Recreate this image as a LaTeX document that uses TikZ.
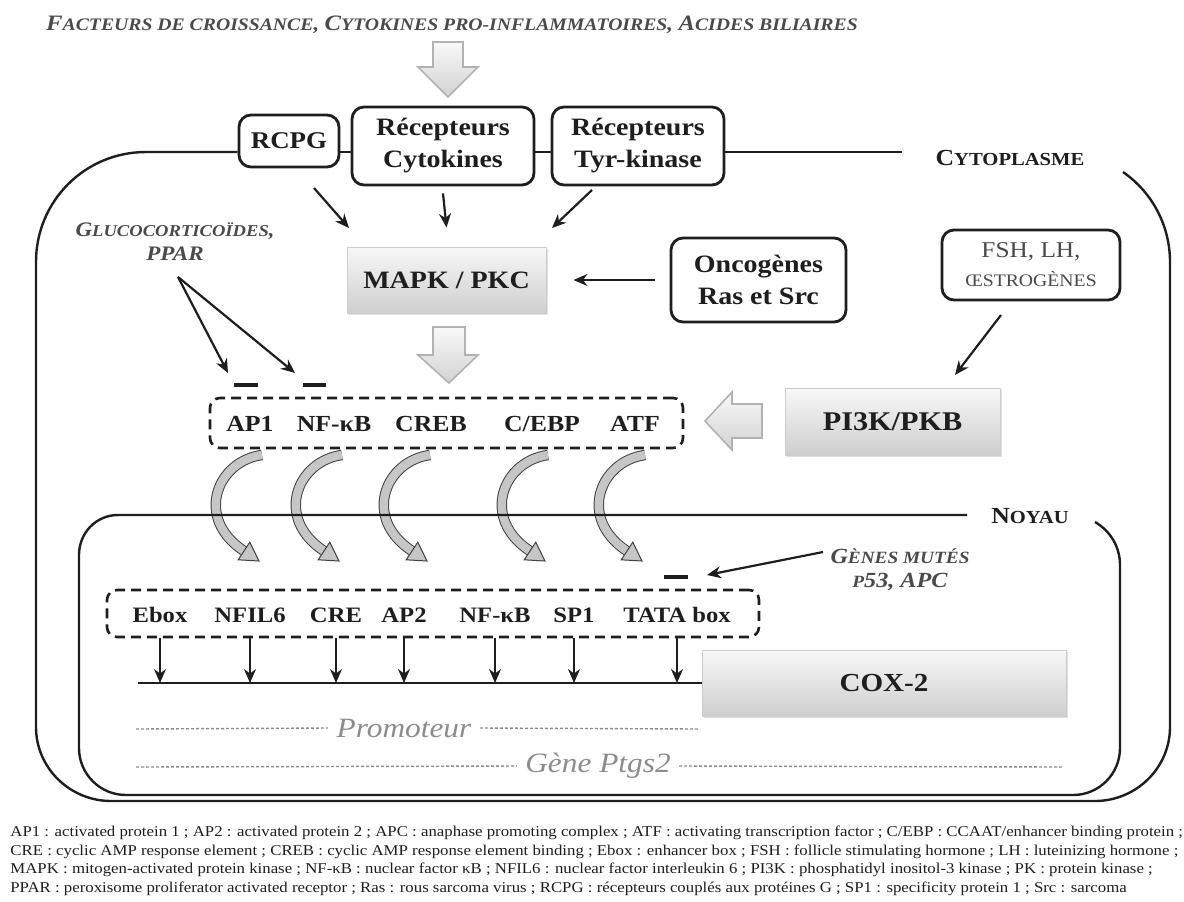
\documentclass[tikz,border=0pt]{standalone}
\usepackage{fontspec}
\setmainfont{Liberation Serif}
\newfontfamily\cam{Liberation Serif}[FakeStretch=1.12]
\usetikzlibrary{arrows.meta,shadows}
\definecolor{ink}{HTML}{1E1E1E}
\definecolor{scgrey}{HTML}{4A4A4A}
\definecolor{pgrey}{HTML}{8C8C8C}
\newcommand\fsz[2]{\fontsize{#1}{#2}\selectfont}
\newcommand\SCset[3]{\gdef\scB{\fontsize{#1}{#3}\selectfont}\gdef\scS{\fontsize{#2}{#3}\selectfont}}
\newcommand\Cp[1]{{\scB #1}}
\newcommand\Sm[1]{{\scS #1}}
\begin{document}
\begin{tikzpicture}[x=0.5pt,y=-0.5pt,
  rbox/.style={draw=ink, line width=1.4pt, rounded corners=6pt, fill=white, align=center,
     font=\cam\bfseries\fsz{12.5pt}{16pt}, text=ink, inner sep=0pt},
  gbox/.style={draw=gray!40, line width=0.5pt, top color=gray!6, bottom color=gray!38,
     text=ink, inner sep=0pt, drop shadow={opacity=0.25, shadow xshift=1pt, shadow yshift=-1pt}},
  dbox/.style={draw=ink, line width=1.3pt, dash pattern=on 5pt off 3pt, rounded corners=5pt, inner sep=0pt},
  tf/.style={font=\cam\bfseries\fsz{11.5pt}{13pt}, text=ink, inner sep=1pt},
  pe/.style={font=\cam\bfseries\fsz{11pt}{13pt}, text=ink, inner sep=1pt},
  arr/.style={draw=ink, line width=1.1pt, -{Stealth[length=7pt,width=6pt]}},
  inhib/.style={draw=ink, line width=2.2pt},
  barrow/.style={draw=gray!60, line width=0.8pt, top color=gray!5, bottom color=gray!35, line join=miter},
  cell/.style={draw=ink, line width=1.2pt},
  dots/.style={draw=pgrey, line width=0.7pt, dash pattern=on 1.5pt off 1pt},
  curv/.style={draw=gray!50!black, line width=0.5pt, double=gray!45, double distance=4.2pt},
  curvhead/.style={draw=gray!50!black, fill=gray!45, line width=0.5pt, line join=miter},
  scl/.style={font=\cam\bfseries\itshape, text=scgrey, align=center, inner sep=1pt},
  legend/.style={font=\cam\fsz{7.5pt}{9pt}, text=ink, anchor=west, inner sep=0pt}]
\useasboundingbox (0,0) rectangle (1184,901);

% title and top block arrow
\node[scl] (title) at (452,25) {\SCset{11pt}{8.8pt}{13pt}\Cp{F}\Sm{ACTEURS DE CROISSANCE}, \Cp{C}\Sm{YTOKINES PRO-INFLAMMATOIRES}, \Cp{A}\Sm{CIDES BILIAIRES}};
\path[barrow] (433,42) -- (463,42) -- (463,67) -- (478,67) -- (448,97) -- (418,67) -- (433,67) -- cycle;

% receptors
\node[rbox, minimum width=50pt, minimum height=26pt, font=\cam\bfseries\fsz{12pt}{15pt}] (rcpg) at (289,141) {RCPG};
\node[rbox, minimum width=91pt, minimum height=39pt] (cyt) at (443,146) {Récepteurs\\Cytokines};
\node[rbox, minimum width=86pt, minimum height=39pt] (tyr) at (638,146) {Récepteurs\\Tyr-kinase};

% membranes
\coordinate (memL) at (146,152);
\coordinate (memR) at (902,152);
\draw[cell] (rcpg.west |- memL) -- (memL) .. controls (85,152) and (36,201) .. (36,262) -- (36,727)
  .. controls (36,768) and (70,801) .. (111,801) -- (1095,801) .. controls (1136,801) and (1170,768) .. (1170,727)
  -- (1170,262) .. controls (1170,226) and (1152.5,192.5) .. (1123,172);
\draw[cell] (rcpg.east |- memL) -- (cyt.west |- memL);
\draw[cell] (cyt.east |- memL) -- (tyr.west |- memL);
\draw[cell] (tyr.east |- memL) -- (memR);
\node[font=\cam\bfseries, text=ink, inner sep=0pt] (cytoplasme) at (1010,158) {\SCset{11.5pt}{9.2pt}{12pt}\Cp{C}\Sm{YTOPLASME}};

% kinases
\node[gbox, minimum width=99.5pt, minimum height=33pt, font=\cam\bfseries\fsz{12.5pt}{15pt}] (mapk) at (446.5,280) {MAPK / PKC};
\node[rbox, minimum width=87.5pt, minimum height=42pt] (onc) at (758.5,280) {Oncogènes\\Ras et Src};
\node[rbox, minimum width=89pt, minimum height=35pt, font=\cam\fsz{11.3pt}{14.5pt}, text=scgrey] (fsh) at (1031,265) {FSH, LH,\\{\fsz{8.8pt}{14.5pt}ŒSTROGÈNES}};
\node[gbox, minimum width=107.5pt, minimum height=33.5pt, font=\cam\bfseries\fsz{13.5pt}{16pt}] (pi3k) at (892.5,421.5) {PI3K/PKB};

\draw[arr] (314,188) -- (349,228);
\draw[arr] ([yshift=-3.5pt]cyt.south) -- ([yshift=9.5pt]mapk.north);
\draw[arr] (592,190) -- (552,228);
\draw[arr] ([xshift=-7.5pt]onc.west) -- ([xshift=13.5pt]mapk.east);
\draw[arr] (1001,315) -- (955,375);

% MAPK block arrow and PI3K block arrow
\path[barrow] (433,327) -- (465,327) -- (465,355) -- (478,355) -- (449,383) -- (418,355) -- (433,355) -- cycle;
\path[barrow] (762,404) -- (762,438) -- (732,438) -- (732,450) -- (705,421) -- (732,392) -- (732,404) -- cycle;

% glucocorticoids
\node[scl] (gluco) at (175,242) {\SCset{10.3pt}{8.3pt}{15pt}\Cp{G}\Sm{LUCOCORTICOÏDES},\\\Cp{PPAR}};
\coordinate (gapex) at (178,277);
\draw[arr] (gapex) -- (228,373);
\draw[arr] (gapex) -- (295,373);
\draw[inhib] (234,385) -- (258,385);
\draw[inhib] (303,385) -- (326,385);

% transcription factors
\node[dbox, minimum width=236.5pt, minimum height=25pt] (tfbox) at (446.5,423) {};
\node[tf] (ap1) at (250,424) {AP1};
\node[tf] (nfkb) at (334,424) {NF-κB};
\node[tf] (creb) at (431,424) {CREB};
\node[tf] (cebp) at (542,424) {C/EBP};
\node[tf] (atf) at (635,424) {ATF};

% curved arrows
\foreach \xt in {262,342,430,548,645}{
  \draw[curv] (\xt,455) .. controls +(-45,6) and +(-50,-33) .. (\xt-18,551);
  \path[curvhead] (\xt-23.8,559.8) -- (\xt-3,561) -- (\xt-12.2,542.2) -- cycle;
}

% nucleus
\draw[cell] (967,515) -- (118,515) .. controls (96,515) and (79,533) .. (79,555) -- (79,748)
  .. controls (79,774) and (100,795) .. (126,795) -- (1073,795) .. controls (1099,795) and (1120,774) .. (1120,748)
  -- (1120,565) .. controls (1120,547) and (1110.5,531) .. (1095,522);
\node[font=\cam\bfseries, text=ink, inner sep=0pt] (noyau) at (1030,516) {\SCset{11.5pt}{9.2pt}{12pt}\Cp{N}\Sm{OYAU}};

% mutated genes
\node[scl] (mutes) at (900,570) {\SCset{10.8pt}{8.6pt}{15.5pt}\Cp{G}\Sm{ÈNES MUTÉS}\\\Sm{P}\Cp{53, APC}};
\draw[arr] (823,552) -- (707,575);
\draw[inhib] (664,577) -- (688,577);

% promoter elements
\node[dbox, minimum width=326pt, minimum height=23.5pt] (prom) at (433,613.5) {};
\node[pe] (ebox) at (160,615) {Ebox};
\node[pe] (nfil) at (250,615) {NFIL6};
\node[pe] (cre) at (336,615) {CRE};
\node[pe] (ap2) at (404,615) {AP2};
\node[pe] (nfkb2) at (495,615) {NF-κB};
\node[pe] (sp1) at (574,615) {SP1};
\node[pe] (tata) at (677,615) {TATA box};

\node[gbox, minimum width=182pt, minimum height=33pt, font=\cam\bfseries\fsz{13pt}{16pt}] (cox) at (884,683) {COX-2};
\coordinate (dnaL) at (138,683);
\draw[draw=ink, line width=1.3pt] (dnaL) -- (cox.west);
\foreach \n in {ebox,nfil,cre,ap2,nfkb2,sp1,tata}
  \draw[arr] (\n |- prom.south) -- (\n |- dnaL);

% promoter / gene
\node[font=\cam\itshape\fsz{14pt}{16pt}, text=pgrey, inner sep=4pt] (promtxt) at (404,728) {Promoteur};
\draw[dots] (136,729) -- (promtxt.west);
\draw[dots] (promtxt.east) -- (698,729);
\node[font=\cam\itshape\fsz{14pt}{16pt}, text=pgrey, inner sep=4pt] (gene) at (598,766) {Gène Ptgs2};
\draw[dots] (136,767) -- (gene.west);
\draw[dots] (gene.east) -- (1062,767);

% legend
\node[legend] (l1) at (10,833) {AP1 : activated protein 1 ; AP2 : activated protein 2 ; APC : anaphase promoting complex ; ATF : activating transcription factor ; C/EBP : CCAAT/enhancer binding protein ;};
\node[legend] (l2) at (10,852) {CRE : cyclic AMP response element ; CREB : cyclic AMP response element binding ; Ebox : enhancer box ; FSH : follicle stimulating hormone ; LH : luteinizing hormone ;};
\node[legend] (l3) at (10,870) {MAPK : mitogen-activated protein kinase ; NF-κB : nuclear factor κB ; NFIL6 : nuclear factor interleukin 6 ; PI3K : phosphatidyl inositol-3 kinase ; PK : protein kinase ;};
\node[legend] (l4) at (10,889) {PPAR : peroxisome proliferator activated receptor ; Ras : rous sarcoma virus ; RCPG : récepteurs couplés aux protéines G ; SP1 : specificity protein 1 ; Src : sarcoma};
\end{tikzpicture}
\end{document}
